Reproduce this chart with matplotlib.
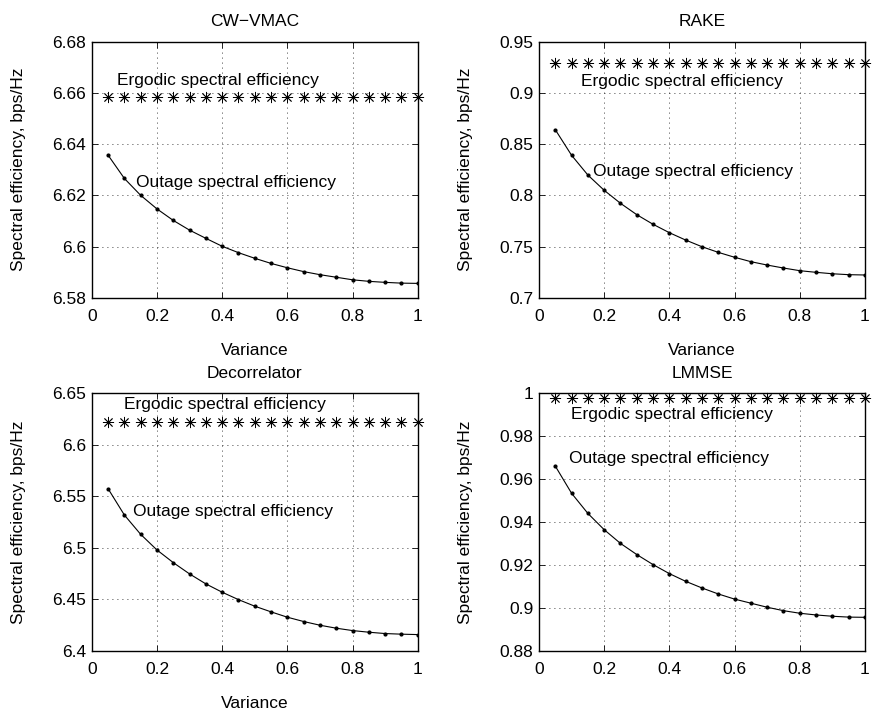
import matplotlib
matplotlib.use("Agg")
import matplotlib.pyplot as plt

plt.rcParams['font.family'] = ['Liberation Sans', 'DejaVu Sans']
plt.rcParams['font.size'] = 12.5

variance = [0.05, 0.10, 0.15, 0.20, 0.25, 0.30, 0.35, 0.40, 0.45, 0.50,
            0.55, 0.60, 0.65, 0.70, 0.75, 0.80, 0.85, 0.90, 0.95, 1.00]

# --- CW-VMAC ---
cw_ergodic = 6.6583
cw_outage = [6.6357, 6.6266, 6.6200, 6.6147, 6.6102, 6.6064, 6.6032, 6.6001, 6.5976, 6.5954,
             6.5934, 6.5917, 6.5902, 6.5890, 6.5880, 6.5870, 6.5864, 6.5860, 6.5857, 6.5856]

# --- RAKE ---
rake_ergodic = 0.9289
rake_outage = [0.8641, 0.8391, 0.8198, 0.8049, 0.7922, 0.7811, 0.7717, 0.7635, 0.7563, 0.7498,
               0.7443, 0.7395, 0.7352, 0.7319, 0.7290, 0.7264, 0.7248, 0.7234, 0.7225, 0.7222]

# --- Decorrelator ---
dec_ergodic = 6.6222
dec_outage = [6.5574, 6.5318, 6.5130, 6.4978, 6.4855, 6.4745, 6.4648, 6.4567, 6.4495, 6.4431,
              6.4376, 6.4324, 6.4282, 6.4246, 6.4217, 6.4194, 6.4178, 6.4165, 6.4159, 6.4155]

# --- LMMSE ---
lm_ergodic = 0.9977
lm_outage = [0.9661, 0.9534, 0.9440, 0.9364, 0.9300, 0.9248, 0.9201, 0.9159, 0.9123, 0.9092,
             0.9064, 0.9040, 0.9021, 0.9002, 0.8986, 0.8974, 0.8966, 0.8960, 0.8956, 0.8955]

panels = [
    # title, ergodic, outage, ylim, yticks, ytick labels, ergodic text pos, outage text pos, xlabel
    ("CW\u2212VMAC", cw_ergodic, cw_outage, (6.58, 6.68),
     [6.58, 6.60, 6.62, 6.64, 6.66, 6.68], ["6.58", "6.6", "6.62", "6.64", "6.66", "6.68"],
     (0.076, 6.665), (0.135, 6.625), True),
    ("RAKE", rake_ergodic, rake_outage, (0.7, 0.95),
     [0.7, 0.75, 0.8, 0.85, 0.9, 0.95], ["0.7", "0.75", "0.8", "0.85", "0.9", "0.95"],
     (0.128, 0.911), (0.166, 0.823), True),
    ("Decorrelator", dec_ergodic, dec_outage, (6.4, 6.65),
     [6.4, 6.45, 6.5, 6.55, 6.6, 6.65], ["6.4", "6.45", "6.5", "6.55", "6.6", "6.65"],
     (0.10, 6.6396), (0.125, 6.535), True),
    ("LMMSE", lm_ergodic, lm_outage, (0.88, 1.0),
     [0.88, 0.9, 0.92, 0.94, 0.96, 0.98, 1.0], ["0.88", "0.9", "0.92", "0.94", "0.96", "0.98", "1"],
     (0.097, 0.9904), (0.092, 0.9697), False),
]

positions = [
    [0.1050, 0.5865, 0.3730, 0.3555],
    [0.6167, 0.5865, 0.3730, 0.3555],
    [0.1050, 0.0965, 0.3730, 0.3570],
    [0.6167, 0.0965, 0.3730, 0.3570],
]

fig = plt.figure(figsize=(8.74, 7.2), dpi=100)
fig.set_facecolor("white")

for (title, erg, out, ylim, yt, ytl, etxt, otxt, show_xlabel), pos in zip(panels, positions):
    ax = fig.add_axes(pos)
    ax.plot(variance, [erg] * len(variance), linestyle='none', marker=(8, 2, 0),
            markersize=8, color='black', markeredgewidth=0.6, clip_on=False, zorder=3)
    ax.plot(variance, out, color='black', linewidth=0.8, marker='.', markersize=4, zorder=3)
    ax.set_xlim(0, 1)
    ax.set_ylim(*ylim)
    ax.set_xticks([0, 0.2, 0.4, 0.6, 0.8, 1.0])
    ax.set_xticklabels(["0", "0.2", "0.4", "0.6", "0.8", "1"])
    ax.set_yticks(yt)
    ax.set_yticklabels(ytl)
    ax.grid(True, color='black', linestyle=(0, (1, 5)), linewidth=0.6)
    ax.tick_params(direction='in', top=True, right=True, length=4, width=0.6)
    ax.tick_params(axis='x', pad=8)
    ax.tick_params(axis='y', pad=4)
    for s in ax.spines.values():
        s.set_linewidth(1.0)
    ax.set_title(title, fontsize=12.5, pad=11)
    ax.set_ylabel("Spectral efficiency, bps/Hz", labelpad=19)
    if show_xlabel:
        ax.set_xlabel("Variance", labelpad=14)
    ax.text(etxt[0], etxt[1], "Ergodic spectral efficiency", va='center', ha='left')
    ax.text(otxt[0], otxt[1], "Outage spectral efficiency", va='center', ha='left')

plt.savefig("out.png", dpi=100)
